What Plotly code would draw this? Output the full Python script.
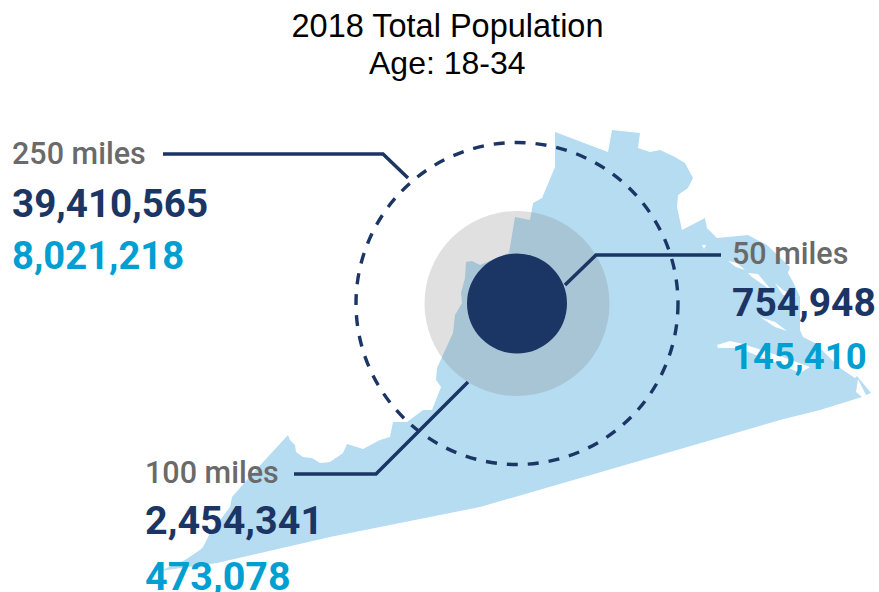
import plotly.graph_objects as go

TITLE_LINES = ["2018 Total Population", "Age: 18-34"]
RADII_LABELS = ["250 miles", "100 miles", "50 miles"]
TOTAL_VALUES = ["39,410,565", "2,454,341", "754,948"]
AGE_VALUES = ["8,021,218", "473,078", "145,410"]

map_x = [160, 185, 200, 203, 210, 230, 232, 253, 288, 290, 295, 296, 303, 312, 320, 330, 343, 347, 363, 380, 390, 393,
         407, 423, 432, 438, 441, 436, 437, 442, 453, 455, 462, 461, 465, 466, 472, 480, 509, 515, 530, 533, 542, 555,
         555, 608, 612, 640, 638, 650, 660, 675, 685, 693, 688, 678, 677, 682, 705, 707, 717, 748, 767, 790, 788, 793,
         800, 800, 803, 815, 840, 855, 857, 871, 866, 858, 856, 862, 820, 780, 480, 330, 283, 217]
map_y = [571, 560, 550, 547, 533, 507, 497, 473, 435, 440, 445, 452, 457, 458, 463, 462, 453, 444, 449, 440, 437, 422,
         422, 410, 410, 395, 387, 380, 368, 357, 333, 315, 303, 293, 278, 262, 261, 265, 253, 217, 220, 203, 198, 167,
         132, 152, 130, 133, 148, 152, 150, 157, 163, 178, 188, 195, 207, 230, 218, 228, 238, 235, 245, 267, 273, 282,
         297, 330, 337, 343, 368, 378, 376, 393, 395, 379, 392, 397, 410, 420, 507, 537, 548, 563]

inlet_x = [[728, 737, 745, 736, 728], [748, 758, 772, 765, 752, 748], [775, 783, 797, 783, 775],
           [760, 775, 787, 775, 760], [717, 730, 743, 783, 810, 800, 787, 743, 733, 718], [702, 706, 704, 702]]
inlet_y = [[261, 263, 270, 267, 261], [273, 274, 291, 286, 277, 273], [283, 290, 297, 295, 283],
           [317, 322, 331, 327, 317], [345, 341, 344, 357, 367, 373, 367, 350, 348, 348], [245, 245, 249, 245]]

center_x, center_y = 517, 303.5
inner_r, mid_r, outer_r = 50, 92.5, 161

leader_250 = ([163, 383, 408], [154, 154, 178])
leader_50 = ([565, 596, 721], [285, 255, 255])
leader_100 = ([294, 376, 468], [474, 474, 382])

NAVY = "#1b3564"
CYAN = "#009fd1"
GREY = "#6a6a6a"

fig = go.Figure()
fig.add_trace(go.Scatter(x=map_x, y=map_y, mode="lines", fill="toself", fillcolor="#b6dcf2",
                         line=dict(width=0, color="#b6dcf2"), hoverinfo="skip"))
for ix, iy in zip(inlet_x, inlet_y):
    fig.add_trace(go.Scatter(x=ix, y=iy, mode="lines", fill="toself", fillcolor="white",
                             line=dict(width=0, color="white"), hoverinfo="skip"))


def circle(r, **kw):
    return dict(type="circle", xref="x", yref="y", x0=center_x - r, x1=center_x + r,
                y0=center_y - r, y1=center_y + r, layer="above", **kw)


def polyline(xs, ys):
    d = "M" + " L".join(f"{a},{b}" for a, b in zip(xs, ys))
    return dict(type="path", path=d, xref="x", yref="y", layer="above", line=dict(color=NAVY, width=3.5))


shapes = [
    circle(mid_r, fillcolor="rgba(120,125,120,0.235)", line=dict(width=0)),
    circle(outer_r, line=dict(color=NAVY, width=3.4, dash="11px,10px")),
    circle(inner_r, fillcolor=NAVY, line=dict(width=0)),
    polyline(*leader_250), polyline(*leader_50), polyline(*leader_100),
]

label_x = [12, 145, 732]
label_y = [153, 472, 253]
total_y = [203, 520, 303]
age_y = [256, 576, 356]
total_size = [38.6, 39.5, 39]
age_size = [38.2, 39.5, 36.5]
annotations = []
for i in range(3):
    for txt, yy, col, size, weight in [(RADII_LABELS[i], label_y[i], GREY, 30.5, 500),
                                       (TOTAL_VALUES[i], total_y[i], NAVY, total_size[i], 700),
                                       (AGE_VALUES[i], age_y[i], CYAN, age_size[i], 700)]:
        annotations.append(dict(x=label_x[i], y=yy, xref="x", yref="y", text=txt, showarrow=False,
                                xanchor="left", yanchor="middle", xshift=-2,
                                font=dict(family="Roboto", size=size, color=col, weight=weight)))
annotations.append(dict(x=447, y=63, xref="x", yref="y", text=TITLE_LINES[1], showarrow=False,
                        xanchor="center", yanchor="middle",
                        font=dict(family="Liberation Sans", size=32, color="black")))

fig.update_layout(
    width=879, height=592, margin=dict(l=0, r=0, t=0, b=0), showlegend=False,
    paper_bgcolor="white", plot_bgcolor="white",
    title=dict(text=TITLE_LINES[0], x=447.5 / 879, xanchor="center", y=1 - 26 / 592, yanchor="middle",
               font=dict(family="Liberation Sans", size=32.5, color="black")),
    xaxis=dict(range=[0, 879], visible=False, fixedrange=True),
    yaxis=dict(range=[592, 0], visible=False, fixedrange=True),
    shapes=shapes, annotations=annotations,
)
fig.write_html("out.html", config={"displayModeBar": False},
               post_script="document.body.style.margin='0';document.body.style.overflow='hidden';")
